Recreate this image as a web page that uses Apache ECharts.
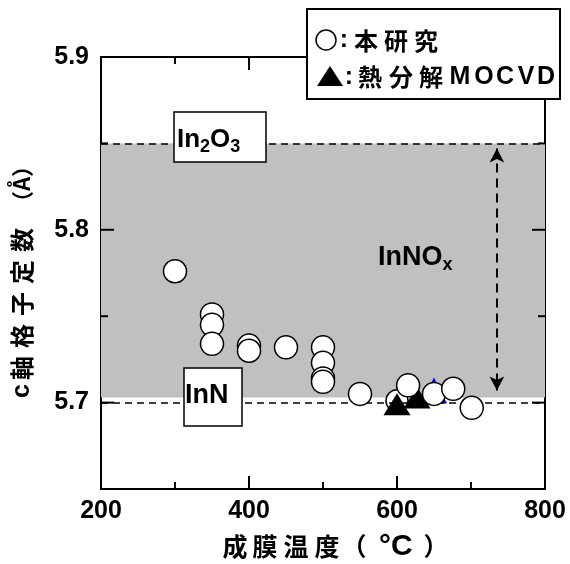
<!DOCTYPE html>
<html>
<head>
<meta charset="utf-8">
<script src="https://cdn.jsdelivr.net/npm/echarts@6/dist/echarts.min.js"></script>
<style>
  html, body { margin: 0; padding: 0; background: #fff; }
</style>
</head>
<body>
<div id="myChart" style="width: 570px; height: 564px;"></div>
<script>
// 本研究 (○)
var circleX = [300, 350, 350, 350, 400, 400, 450, 500, 500, 500, 500, 550, 615, 650, 676, 701];
var circleY = [5.776, 5.751, 5.745, 5.734, 5.733, 5.730, 5.732, 5.732, 5.723, 5.714, 5.712, 5.705, 5.710, 5.705, 5.708, 5.697];
// 三角の下に隠れている○
var hiddenX = [600];
var hiddenY = [5.701];
// 熱分解MOCVD (▲)
var triX = [600, 627];
var triY = [5.699, 5.703];
var blueTriX = [650];
var blueTriY = [5.707];
// 基準線
var in2o3Line = 5.85;
var innLine = 5.703;
// 目盛り
var xMajor = [200, 400, 600, 800];
var xMinor = [300, 500, 700];
var yMajor = [5.7, 5.8, 5.9];
var yMinor = [5.65, 5.75, 5.85];

var xMin = 200, xMax = 800, yMin = 5.65, yMax = 5.9;

function pairs(xs, ys) {
  return xs.map(function (x, i) { return [x, ys[i]]; });
}

// 内向きの目盛りを塗りつぶしの小さな矩形シンボルで作る
function tickData() {
  var d = [];
  xMajor.concat(xMinor).forEach(function (v) {
    var len = xMajor.indexOf(v) >= 0 ? 13 : 7;
    d.push({ value: [v, yMin], symbolSize: [2, len], symbolOffset: [0, -len / 2] });
    d.push({ value: [v, yMax], symbolSize: [2, len], symbolOffset: [0, len / 2] });
  });
  yMajor.concat(yMinor).forEach(function (v) {
    var len = yMajor.indexOf(v) >= 0 ? 13 : 7;
    d.push({ value: [xMin, v], symbolSize: [len, 2], symbolOffset: [len / 2, 0] });
    d.push({ value: [xMax, v], symbolSize: [len, 2], symbolOffset: [-len / 2, 0] });
  });
  return d;
}

var numFont = '"Liberation Sans", Arial, sans-serif';
var jpFont = '"Noto Sans CJK JP", sans-serif';

function txt(c, x, y, font, rot) {
  return {
    type: "text", z: 101, x: x, y: y, rotation: rot || 0,
    style: { text: c, font: font, fill: "#000", align: "center", verticalAlign: "middle" }
  };
}

var myChart = echarts.init(document.getElementById("myChart"));
var lineStyle = { color: "#000", width: 2 };

var f25 = "bold 25px " + numFont;
var j24 = "bold 24px " + jpFont;
var j25 = "bold 25px " + jpFont;
var up = Math.PI / 2;

myChart.setOption({
  animation: false,
  grid: { left: 101, right: 25, top: 57, bottom: 75 },
  xAxis: [
    {
      type: "value", min: xMin, max: xMax, interval: 200,
      axisLine: { show: true, lineStyle: lineStyle },
      axisTick: { show: false },
      axisLabel: { color: "#000", fontSize: 25, fontWeight: "bold", fontFamily: numFont, margin: 10 },
      splitLine: { show: false }
    },
    {
      type: "value", position: "top", min: xMin, max: xMax, interval: 200,
      axisLine: { show: true, lineStyle: lineStyle },
      axisTick: { show: false }, axisLabel: { show: false }, splitLine: { show: false }
    }
  ],
  yAxis: [
    {
      type: "value", position: "left", min: yMin, max: yMax, interval: 0.05,
      axisLine: { show: true, lineStyle: lineStyle },
      axisTick: { show: false },
      axisLabel: {
        customValues: yMajor,
        color: "#000", fontSize: 25, fontWeight: "bold", fontFamily: numFont, margin: 12,
        formatter: function (v) { return v.toFixed(1); }
      },
      splitLine: { show: false }
    },
    {
      type: "value", position: "right", min: yMin, max: yMax, interval: 0.05,
      axisLine: { show: true, lineStyle: lineStyle },
      axisTick: { show: false }, axisLabel: { show: false }, splitLine: { show: false }
    }
  ],
  series: [
    {
      type: "scatter", z: 2,
      symbol: "circle", symbolSize: 22,
      itemStyle: { color: "#fff", borderColor: "#000", borderWidth: 1.5, opacity: 1 },
      data: pairs(hiddenX, hiddenY),
      markArea: {
        silent: true,
        itemStyle: { color: "#c0c0c0", opacity: 1 },
        data: [[{ yAxis: innLine }, { yAxis: in2o3Line }]]
      },
      markLine: {
        silent: true, symbol: ["none", "none"], label: { show: false },
        lineStyle: { color: "#000", width: 1.5, type: [7, 5], opacity: 1 },
        data: [{ yAxis: in2o3Line }, { yAxis: innLine }]
      }
    },
    {
      type: "scatter", z: 2, data: [],
      markLine: {
        silent: true, symbol: ["arrow", "arrow"], symbolSize: [11, 14], label: { show: false },
        lineStyle: { color: "#000", width: 2, type: [9, 6], opacity: 1 },
        data: [[{ coord: [735, 5.847] }, { coord: [735, 5.707] }]]
      }
    },
    {
      type: "scatter", z: 3,
      symbol: "triangle", symbolSize: [26, 26],
      itemStyle: { color: "#0000ff", opacity: 1 },
      data: pairs(blueTriX, blueTriY)
    },
    {
      type: "scatter", name: "熱分解MOCVD", z: 4,
      symbol: "triangle", symbolSize: [27, 22],
      itemStyle: { color: "#000", opacity: 1 },
      data: pairs(triX, triY)
    },
    {
      type: "scatter", name: "本研究", z: 5,
      symbol: "circle", symbolSize: 23,
      itemStyle: { color: "#fff", borderColor: "#000", borderWidth: 1.5, opacity: 1 },
      data: pairs(circleX, circleY)
    },
    {
      // 目盛り
      type: "scatter", z: 6, silent: true, clip: false,
      symbol: "rect",
      itemStyle: { color: "#000", opacity: 1 },
      data: tickData()
    }
  ],
  graphic: [
    // 凡例
    { type: "rect", z: 100, shape: { x: 307, y: 9, width: 253, height: 90 }, style: { fill: "#fff", stroke: "#000", lineWidth: 2 } },
    { type: "circle", z: 101, shape: { cx: 326, cy: 40, r: 10 }, style: { fill: "#fff", stroke: "#000", lineWidth: 1.5 } },
    { type: "polygon", z: 101, shape: { points: [[330, 66], [317, 86], [343, 86]] }, style: { fill: "#000" } },
    txt(":", 344, 40, f25), txt(":", 349, 77, f25),
    txt("本", 366, 41, j24), txt("研", 396, 41, j24), txt("究", 426, 41, j24),
    txt("熱", 370, 77, j24), txt("分", 401, 77, j24), txt("解", 431, 77, j24),
    txt("M", 460, 77, f25), txt("O", 484, 77, f25), txt("C", 505, 77, f25), txt("V", 526, 77, f25), txt("D", 546, 77, f25),
    // In2O3
    { type: "rect", z: 100, shape: { x: 174, y: 112, width: 92, height: 50 }, style: { fill: "#fff", stroke: "#000", lineWidth: 1.5 } },
    {
      type: "text", z: 101, x: 177, y: 140,
      style: {
        text: "{b|In}{s|2}{b|O}{s|3}", verticalAlign: "middle",
        rich: {
          b: { font: "bold 26px " + numFont, fill: "#000" },
          s: { font: "bold 18px " + numFont, fill: "#000", padding: [14, 0, 0, 0] }
        }
      }
    },
    // InN
    { type: "rect", z: 100, shape: { x: 184, y: 368, width: 58, height: 58 }, style: { fill: "#fff", stroke: "#000", lineWidth: 1.5 } },
    { type: "text", z: 101, x: 185, y: 396, style: { text: "InN", font: "bold 27px " + numFont, fill: "#000", verticalAlign: "middle" } },
    // InNOx
    {
      type: "text", z: 101, x: 378, y: 258,
      style: {
        text: "{b|InNO}{s|x}", verticalAlign: "middle",
        rich: {
          b: { font: "bold 27px " + numFont, fill: "#000" },
          s: { font: "bold 18px " + numFont, fill: "#000", padding: [14, 0, 0, 0] }
        }
      }
    },
    // x軸タイトル
    txt("成", 235, 546, j25), txt("膜", 265, 546, j25), txt("温", 296, 546, j25), txt("度", 327, 546, j25),
    txt("（", 354, 546, j25),
    { type: "text", z: 101, x: 379, y: 547, style: { text: "°C", font: "bold 30px " + numFont, fill: "#000", verticalAlign: "middle" } },
    txt("）", 436, 546, j25),
    // y軸タイトル
    txt("c", 22, 391, f25, up),
    txt("軸", 22, 368, j24, up), txt("格", 22, 336, j24, up), txt("子", 22, 304, j24, up),
    txt("定", 22, 272, j24, up), txt("数", 22, 240, j24, up),
    txt("（Å）", 22, 184, "bold 22px " + jpFont, up)
  ]
});
</script>
</body>
</html>
